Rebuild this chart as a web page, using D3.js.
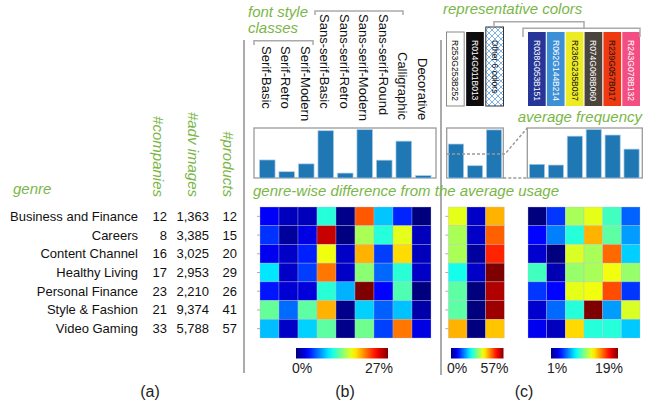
<!DOCTYPE html>
<html>
<head>
<meta charset="utf-8">
<script src="https://cdn.jsdelivr.net/npm/d3@7"></script>
<style>
  body { margin: 0; background: #fff; }
  svg text { font-family: "Liberation Sans", Arial, sans-serif; }
</style>
</head>
<body>
<div id="chart"></div>
<script>
// ---- data ----
const genres = ['Business and Finance', 'Careers', 'Content Channel', 'Healthy Living',
  'Personal Finance', 'Style & Fashion', 'Video Gaming'];
const companies = [12, 8, 16, 17, 23, 21, 33];
const advImages = [1363, 3385, 3025, 2953, 2210, 9374, 5788];
const products = [12, 15, 20, 29, 26, 41, 57];

const fontClasses = ['Serif-Basic', 'Serif-Retro', 'Serif-Modern', 'Sans-serif-Basic', 'Sans-serif-Retro',
  'Sans-serif-Modern', 'Sans-serif-Round', 'Calligraphic', 'Decorative'];
const fontFreq = [9.2, 3.2, 7.2, 24.1, 2.5, 24.7, 9.1, 18.8, 1.2];
const fontDiff = [
  [3.2, 1.6, 1.6, 11.1, 0.3, 21.3, 8.6, 4.3, 0.0],
  [4.7, 0.8, 2.7, 25.1, 0.0, 14.6, 11.1, 16.2, 1.6],
  [3.0, 1.9, 4.2, 16.5, 1.9, 18.9, 5.0, 17.8, 1.6],
  [9.5, 1.9, 5.0, 20.5, 1.9, 13.8, 6.1, 11.2, 1.9],
  [3.9, 2.2, 2.4, 11.2, 8.1, 27.0, 3.4, 12.2, 0.0],
  [12.8, 6.2, 12.6, 18.9, 0.3, 8.9, 5.9, 8.5, 1.1],
  [8.4, 1.9, 8.9, 12.6, 0.3, 13.1, 5.1, 20.5, 2.7]
];
const fontRange = [0, 27];

const mainColors = ['R253G253B252', 'R014G011B013', 'Other 6 colors'];
const mainFreq = [36, 13, 51];
const mainDiff = [
  [34.2, 4.0, 39.9],
  [30.8, 4.0, 44.5],
  [30.8, 1.7, 47.9],
  [22.5, 4.0, 57.0],
  [26.5, 0.0, 54.2],
  [26.5, 0.0, 55.3],
  [39.9, 0.0, 38.8]
];
const mainRange = [0, 57];

const otherColors = ['R038G053B151', 'R062G144B214', 'R236G235B037', 'R074G068B060', 'R239G057B017', 'R243G078B132'];
const otherFreq = [3.7, 3.5, 11.3, 13.1, 11.6, 7.8];
const otherDiff = [
  [1.0, 4.2, 10.7, 11.8, 8.9, 5.0],
  [3.3, 5.5, 8.4, 13.6, 9.4, 6.0],
  [2.4, 1.0, 11.6, 10.7, 14.9, 6.9],
  [8.9, 1.9, 10.4, 10.7, 12.0, 10.4],
  [4.2, 3.3, 11.8, 12.0, 15.4, 4.2],
  [2.4, 5.1, 8.4, 19.0, 6.0, 11.6],
  [3.0, 2.1, 12.9, 8.4, 8.4, 6.8]
];
const otherRange = [1, 19];

// ---- shared styles / helpers ----
const green = '#7ab648';
const lineGray = '#8f8f8f';
const barBlue = '#1f77b4';

const svg = d3.select('#chart').append('svg').attr('width', 652).attr('height', 404);
const defs = svg.append('defs');

// MATLAB-style jet colormap
const jetStops = [[0, '#00007f'], [0.125, '#0000ff'], [0.375, '#00ffff'], [0.625, '#ffff00'], [0.875, '#ff0000'], [1, '#7f0000']];
const jet = d3.scaleLinear().domain(jetStops.map(d => d[0])).range(jetStops.map(d => d[1]))
  .interpolate(d3.interpolateRgb).clamp(true);

const grad = defs.append('linearGradient').attr('id', 'jet');
grad.selectAll('stop').data(d3.range(0, 1.0001, 0.05)).join('stop')
  .attr('offset', d => d).attr('stop-color', d => jet(d));

const lattice = defs.append('pattern').attr('id', 'lattice')
  .attr('patternUnits', 'userSpaceOnUse').attr('width', 6).attr('height', 6);
lattice.append('rect').attr('width', 6).attr('height', 6).attr('fill', '#fff');
lattice.append('path').attr('d', 'M0,0L6,6M6,0L0,6M-1,5L1,7M5,-1L7,1')
  .attr('stroke', '#7fb2e5').attr('stroke-width', 1).attr('fill', 'none');

const rowY = d3.scaleBand().domain(d3.range(genres.length)).range([207, 338]);
const rowMid = i => rowY(i) + rowY.bandwidth() / 2;

function greenLabel(x, y, txt, anchor) {
  return svg.append('text').attr('x', x).attr('y', y).attr('fill', green)
    .attr('font-size', 15).attr('font-style', 'italic').attr('text-anchor', anchor || 'start').text(txt);
}

function vline(x, y0, y1) {
  svg.append('line').attr('x1', x).attr('x2', x).attr('y1', y0).attr('y2', y1)
    .attr('stroke', lineGray).attr('stroke-width', 1.5);
}

function heatmap(matrix, cols, x0, x1, range, ticks) {
  const x = d3.scaleBand().domain(cols).range([x0, x1]);
  const norm = d3.scaleLinear().domain(range).range([0, 1]);
  const cells = matrix.flatMap((row, i) => row.map((v, j) => ({ i, c: cols[j], v })));
  const g = svg.append('g');
  g.selectAll('rect').data(cells).join('rect')
    .attr('x', d => x(d.c)).attr('y', d => rowY(d.i))
    .attr('width', x.bandwidth()).attr('height', rowY.bandwidth())
    .attr('fill', d => jet(norm(d.v)))
    .attr('stroke', 'rgba(190,190,215,0.55)').attr('stroke-width', 0.6);
  if (ticks) {
    g.selectAll('line').data(d3.range(matrix.length)).join('line')
      .attr('x1', x0 - 3).attr('x2', x0).attr('y1', rowMid).attr('y2', rowMid)
      .attr('stroke', '#999').attr('stroke-width', 0.8);
  }
  return x;
}

function barChart(values, cols, bandRange, boxRange, yMax) {
  const top = 128, bottom = 178;
  const x = d3.scaleBand().domain(cols).range(bandRange).paddingInner(0.2).paddingOuter(0.1);
  const y = d3.scaleLinear().domain([0, yMax]).range([bottom, top]);
  const g = svg.append('g');
  g.append('rect').attr('x', boxRange[0]).attr('y', top).attr('width', boxRange[1] - boxRange[0])
    .attr('height', bottom - top).attr('fill', 'none').attr('stroke', '#9a9a9a').attr('stroke-width', 1.3);
  g.selectAll('rect.bar').data(values.map((v, i) => ({ c: cols[i], v }))).join('rect')
    .attr('class', 'bar')
    .attr('x', d => x(d.c)).attr('y', d => y(d.v))
    .attr('width', x.bandwidth()).attr('height', d => bottom - y(d.v))
    .attr('fill', barBlue).attr('stroke', '#a9cbe8').attr('stroke-width', 0.7);
  return { x, y };
}

function colorbar(x0, x1, labels) {
  svg.append('rect').attr('x', x0).attr('y', 348).attr('width', x1 - x0).attr('height', 10.5)
    .attr('fill', 'url(#jet)');
  svg.append('text').attr('x', x0 - 4).attr('y', 373).attr('font-size', 14).attr('fill', '#222').text(labels[0]);
  svg.append('text').attr('x', x1 + 5).attr('y', 373).attr('font-size', 14).attr('fill', '#222')
    .attr('text-anchor', 'end').text(labels[1]);
}

// ---- (a) genre table ----
greenLabel(13, 194, 'genre');
const tableCols = [
  { title: '#companies', values: companies, right: 167, hx: 158 },
  { title: '#adv images', values: advImages, right: 209, hx: 193 },
  { title: '#products', values: products, right: 237, hx: 228 }
];
svg.selectAll('text.genre').data(genres).join('text')
  .attr('class', 'genre').attr('x', 138).attr('y', (d, i) => rowMid(i)).attr('dy', '0.35em')
  .attr('text-anchor', 'end').attr('font-size', 13).attr('fill', '#111').text(d => d);
tableCols.forEach(col => {
  svg.append('text').attr('transform', `translate(${col.hx},197) rotate(90)`).attr('dy', '0.35em')
    .attr('text-anchor', 'end').attr('fill', green).attr('font-size', 15).attr('font-style', 'italic')
    .text(col.title);
  svg.append('g').selectAll('text').data(col.values).join('text')
    .attr('x', col.right).attr('y', (d, i) => rowMid(i)).attr('dy', '0.35em')
    .attr('text-anchor', 'end').attr('font-size', 13).attr('fill', '#111').text(d3.format(','));
});
svg.append('text').attr('x', 150).attr('y', 397).attr('text-anchor', 'middle').attr('font-size', 16)
  .attr('fill', '#222').text('(a)');

vline(244, 40, 373);
vline(441, 40, 375);

// ---- (b) font style classes ----
greenLabel(248, 17, 'font style');
greenLabel(248, 33, 'classes');
const labelTop = { 'Serif': 46, 'Sans-serif': 14, 'Calligraphic': 52, 'Decorative': 58 };
const groupOf = f => f.startsWith('Sans') ? 'Sans-serif' : f.startsWith('Serif') ? 'Serif' : f;

svg.append('path').attr('d', 'M254,45V40.7H313V45').attr('fill', 'none').attr('stroke', '#aaa').attr('stroke-width', 1.5);
svg.append('path').attr('d', 'M315,15V11H403V15').attr('fill', 'none').attr('stroke', '#aaa').attr('stroke-width', 1.5);

const fontBars = barChart(fontFreq, fontClasses, [257.5, 433], [254, 436], 25.5);
svg.append('g').selectAll('text').data(fontClasses).join('text')
  .attr('transform', d => `translate(${fontBars.x(d) + fontBars.x.bandwidth() / 2 - 1},${labelTop[groupOf(d)]}) rotate(90)`)
  .attr('dy', '0.35em').attr('font-size', 13).attr('fill', '#111').text(d => d);

greenLabel(253, 196, 'genre-wise difference from the average usage');
heatmap(fontDiff, fontClasses, 260, 431, fontRange, true);
colorbar(296, 388, ['0%', '27%']);
svg.append('text').attr('x', 345).attr('y', 397).attr('text-anchor', 'middle').attr('font-size', 16)
  .attr('fill', '#222').text('(b)');

// ---- (c) representative colors ----
greenLabel(443, 14, 'representative colors');
greenLabel(642, 122, 'average frequency', 'end');

const rgbOf = s => {
  const m = s.match(/R(\d+)G(\d+)B(\d+)/);
  return m ? `rgb(${+m[1]},${+m[2]},${+m[3]})` : 'url(#lattice)';
};
const darkText = new Set(['R253G253B252', 'Other 6 colors', 'R236G235B037', 'R239G057B017']);

function colorBoxes(list, range, pad) {
  const x = d3.scaleBand().domain(list).range(range).paddingInner(pad);
  const g = svg.append('g');
  g.selectAll('rect').data(list).join('rect')
    .attr('x', d => x(d)).attr('y', d => d.startsWith('Other') ? 27 : 32)
    .attr('width', x.bandwidth()).attr('height', d => d.startsWith('Other') ? 79 : 74)
    .attr('fill', rgbOf)
    .attr('stroke', d => d.startsWith('R253') ? '#8a8a8a' : d.startsWith('Other') ? '#333' : 'none')
    .attr('stroke-width', 1);
  g.selectAll('text').data(list).join('text')
    .attr('transform', d => `translate(${x(d) + x.bandwidth() / 2},40) rotate(90)`)
    .attr('dy', '0.35em').attr('font-size', 8.5)
    .attr('fill', d => darkText.has(d) ? '#111' : '#fff').text(d => d);
  return x;
}
colorBoxes(mainColors, [446.5, 503.5], 0.1);
colorBoxes(otherColors, [528, 640], 0.06);

// brackets linking "Other 6 colors" to its breakdown
svg.append('path').attr('d', 'M523,37V28.3H640V37').attr('fill', 'none').attr('stroke', '#aaa').attr('stroke-width', 1.5);
svg.append('path').attr('d', 'M494,27V21.7H584V28.3').attr('fill', 'none').attr('stroke', '#aaa').attr('stroke-width', 1.5);

const mainBars = barChart(mainFreq, mainColors, [446.5, 503.5], [446.7, 503.3], 53);
barChart(otherFreq, otherColors, [527.5, 641], [527.3, 642.3], 13.5);

// zoom-in guide from the "Other 6 colors" bar to the breakdown chart
const zoomLevel = 25.5;
const zy = mainBars.y(zoomLevel);
svg.append('path').attr('d', `M447,${zy}H505L527.3,128M503.3,178H527.3`)
  .attr('fill', 'none').attr('stroke', '#9a9a9a').attr('stroke-width', 1.5).attr('stroke-dasharray', '3,2');

heatmap(mainDiff, mainColors, 448.3, 504.3, mainRange, true);
heatmap(otherDiff, otherColors, 528, 640, otherRange, false);
colorbar(451, 503.5, ['0%', '57%']);
colorbar(551, 618, ['1%', '19%']);
svg.append('text').attr('x', 524).attr('y', 397).attr('text-anchor', 'middle').attr('font-size', 16)
  .attr('fill', '#222').text('(c)');
</script>
</body>
</html>
